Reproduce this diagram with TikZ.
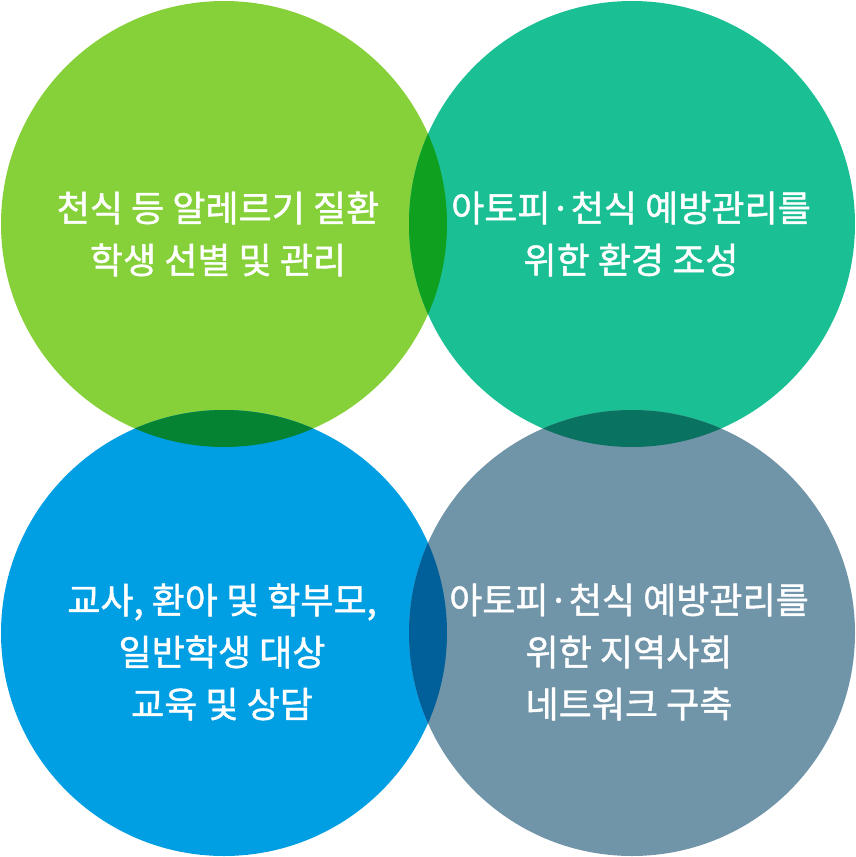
\documentclass[tikz,border=0pt]{standalone}
\usepackage{fontspec}
\setmainfont[FakeBold=1.2]{Noto Sans CJK KR}
\definecolor{leafgreen}{HTML}{86D13A}
\definecolor{seagreen}{HTML}{1ABF94}
\definecolor{skyblue}{HTML}{009EE3}
\definecolor{slategray}{HTML}{7094A8}
\definecolor{toplens}{HTML}{0FA020}
\definecolor{leftlens}{HTML}{058232}
\definecolor{rightlens}{HTML}{0A7261}
\definecolor{bottomlens}{HTML}{016099}

\begin{document}
\begin{tikzpicture}[
    caption/.style={text=white, align=center, font=\fontsize{20.5}{29.6}\selectfont}
]
\useasboundingbox (0,0) rectangle (17.12,-17.14);
\coordinate (tl) at (4.48,-4.48);
\coordinate (tr) at (12.64,-4.48);
\coordinate (bl) at (4.48,-12.66);
\coordinate (br) at (12.64,-12.66);

% circles
\fill[leafgreen] (tl) circle (4.46);
\fill[seagreen] (tr) circle (4.46);
\fill[skyblue] (bl) circle (4.46);
\fill[slategray] (br) circle (4.46);

% overlaps
\begin{scope}
  \clip (tl) circle (4.46);
  \fill[toplens] (tr) circle (4.46);
  \fill[leftlens] (bl) circle (4.46);
\end{scope}
\begin{scope}
  \clip (br) circle (4.46);
  \fill[rightlens] (tr) circle (4.46);
  \fill[bottomlens] (bl) circle (4.46);
\end{scope}

\node[caption] (allergy) at (4.36,-4.68) {천식 등 알레르기 질환\\학생 선별 및 관리};
\node[caption] (environment) at (12.62,-4.68) {아토피·천식 예방관리를\\위한 환경 조성};
\node[caption] (education) at (4.44,-13.04) {교사, 환아 및 학부모,\\일반학생 대상\\교육 및 상담};
\node[caption] (network) at (12.58,-13.04) {아토피·천식 예방관리를\\위한 지역사회\\네트워크 구축};
\end{tikzpicture}
\end{document}
